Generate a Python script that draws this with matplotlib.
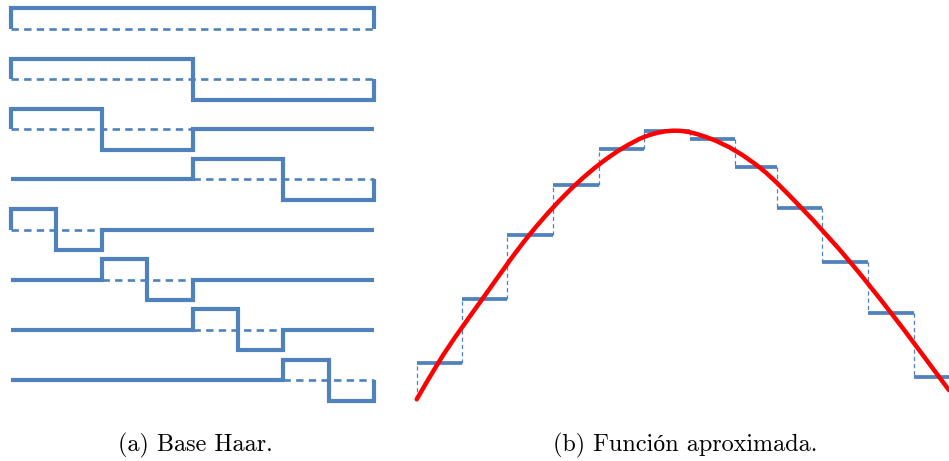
import matplotlib
matplotlib.use("Agg")
import matplotlib.pyplot as plt
from matplotlib.path import Path
from matplotlib.patches import PathPatch

plt.rcParams["lines.scale_dashes"] = False

BLUE = "#4F81BD"
RED = "#FF0000"

# ---- (a) Haar basis: value of each function on the 8 sub-intervals ----
haar_rows = [
    [1, 1, 1, 1, 1, 1, 1, 1],
    [1, 1, 1, 1, -1, -1, -1, -1],
    [1, 1, -1, -1, 0, 0, 0, 0],
    [0, 0, 0, 0, 1, 1, -1, -1],
    [1, -1, 0, 0, 0, 0, 0, 0],
    [0, 0, 1, -1, 0, 0, 0, 0],
    [0, 0, 0, 0, 1, -1, 0, 0],
    [0, 0, 0, 0, 0, 0, 1, -1],
]

# ---- (b) function and its piecewise-constant approximation ----
step_edges = [0, 1.0, 1.98, 2.99, 4.0, 5.0, 6.0, 7.0, 7.91, 8.91, 9.91, 10.92, 12.0]
step_values = [0.136, 0.373, 0.613, 0.796, 0.933, 1.000,
               0.970, 0.866, 0.713, 0.510, 0.322, 0.082]
curve_x = [0.0, 0.468, 1.479, 2.490, 3.516, 4.535, 5.018, 5.721,
           6.446, 7.567, 8.424, 9.567, 10.446, 11.501, 11.699]
curve_y = [0.0, 0.134, 0.382, 0.615, 0.803, 0.936, 0.978, 1.000,
           0.971, 0.859, 0.718, 0.503, 0.317, 0.079, 0.034]

captions = ["(a) Base Haar.", "(b) Función aproximada."]

W, H = 949, 461
fig = plt.figure(figsize=(W / 100, H / 100), dpi=100)
fig.patch.set_facecolor("white")

# ---------- left panel ----------
left_x0, left_x1 = 11.0, 374.0
amp_px = 20.5
first_base_px, last_base_px = 29.0, 380.0
row_gap = (last_base_px - first_base_px) / (len(haar_rows) - 1) / amp_px

axl = fig.add_axes([0, 0, 1, 1])
axl.set_axis_off()
unit_x = (left_x1 - left_x0) / 8
axl.set_xlim(-left_x0 / unit_x, (W - left_x0) / unit_x)
axl.set_ylim(-(H - first_base_px) / amp_px, first_base_px / amp_px)

for i, vals in enumerate(haar_rows):
    base = -i * row_gap
    n = len(vals)
    xs, ys = [0], [base]
    if vals[0] != 0:
        xs.append(0)
        ys.append(base + vals[0])
    for k, v in enumerate(vals):
        xs.append(k + 1)
        ys.append(base + v)
        if k + 1 < n and vals[k + 1] != v:
            xs.append(k + 1)
            ys.append(base + vals[k + 1])
    if vals[-1] != 0:
        xs.append(n)
        ys.append(base)
    nz = [k for k, v in enumerate(vals) if v != 0]
    axl.plot([nz[0], nz[-1] + 1], [base, base], color=BLUE, lw=1.9,
             dashes=(5.3, 3.8), solid_capstyle="butt", dash_capstyle="butt",
             zorder=2)
    axl.plot(xs, ys, color=BLUE, lw=3.0, solid_joinstyle="miter",
             solid_capstyle="butt", zorder=3)

# ---------- right panel ----------
right_x0 = 416.7
step_px = 45.5
zero_px = 399.3
peak_px = 268.6

axr = fig.add_axes([0, 0, 1, 1])
axr.set_axis_off()
axr.patch.set_alpha(0)
axr.set_xlim(-right_x0 / step_px, (W - right_x0) / step_px)
axr.set_ylim(-(H - zero_px) / peak_px, zero_px / peak_px)

prev = 0.0
for k, v in enumerate(step_values):
    a, b = step_edges[k], step_edges[k + 1]
    axr.plot([a, a], [prev, v], color=BLUE, lw=0.9, dashes=(3.0, 2.2),
             zorder=2)
    axr.plot([a, b], [v, v], color=BLUE, lw=2.7, solid_capstyle="butt",
             zorder=3)
    prev = v


def smooth_path(xs, ys):
    """Cubic Hermite (Bezier) path through the given points."""
    n = len(xs)
    h = [xs[i + 1] - xs[i] for i in range(n - 1)]
    d = [(ys[i + 1] - ys[i]) / h[i] for i in range(n - 1)]
    m = [d[0]]
    for i in range(1, n - 1):
        m.append((d[i - 1] * h[i] + d[i] * h[i - 1]) / (h[i - 1] + h[i]))
    m.append(d[-1])
    verts = [(xs[0], ys[0])]
    codes = [Path.MOVETO]
    for i in range(n - 1):
        verts += [(xs[i] + h[i] / 3, ys[i] + m[i] * h[i] / 3),
                  (xs[i + 1] - h[i] / 3, ys[i + 1] - m[i + 1] * h[i] / 3),
                  (xs[i + 1], ys[i + 1])]
        codes += [Path.CURVE4] * 3
    return Path(verts, codes)


axr.add_patch(PathPatch(smooth_path(curve_x, curve_y), fill=False,
                        edgecolor=RED, lw=3.2, capstyle="round",
                        joinstyle="round", zorder=4))

# ---------- captions ----------
cap_font = dict(family=["cmr10", "Liberation Serif"], size=17.4)
fig.text(195 / W, 1 - 445 / H, captions[0], ha="center", va="center", **cap_font)
fig.text(685.5 / W, 1 - 445 / H, captions[1], ha="center", va="center", **cap_font)

fig.savefig("out.png", dpi=100, facecolor="white")
